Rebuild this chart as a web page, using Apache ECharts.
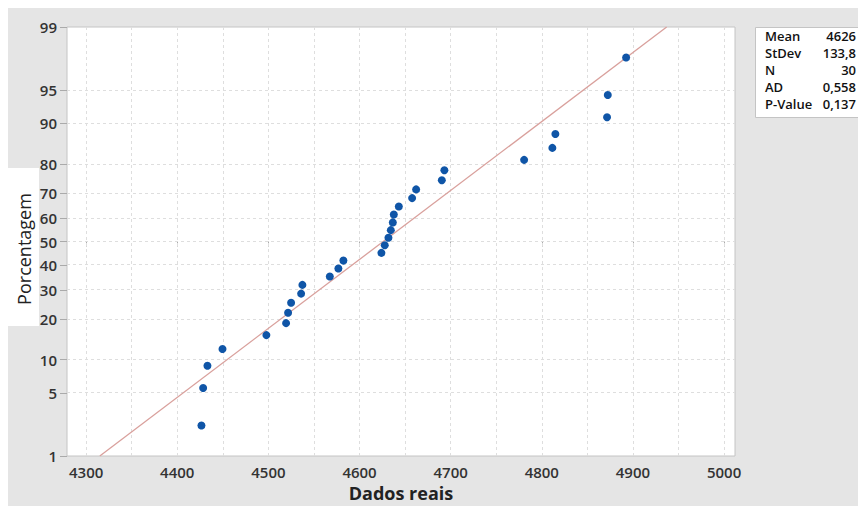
<!DOCTYPE html>
<html><head><meta charset="utf-8">
<script src="https://cdn.jsdelivr.net/npm/echarts@6/dist/echarts.min.js"></script>
<style>html,body{margin:0;padding:0;background:#fff}#c{width:858px;height:508px}</style>
</head><body><div id="c"></div>
<script>
// ---- data ----
const dataX = [4426.5, 4428.4, 4433.1, 4449.6, 4497.8, 4519.4, 4521.6, 4524.9, 4535.9, 4537.3,
               4567.4, 4576.8, 4582.3, 4624.0, 4627.7, 4631.7, 4634.3, 4636.5, 4637.6, 4643.1,
               4657.7, 4662.1, 4690.3, 4693.1, 4780.6, 4811.6, 4814.9, 4871.6, 4872.4, 4892.5];
const dataPct = [2.3, 5.6, 8.9, 12.2, 15.5, 18.8, 22.0, 25.3, 28.6, 31.9,
                 35.2, 38.5, 41.8, 45.1, 48.4, 51.6, 54.9, 58.2, 61.5, 64.8,
                 68.1, 71.4, 74.7, 78.0, 81.2, 84.5, 87.8, 91.1, 94.4, 97.7];
const fitX = [4315, 4937];
const fitPct = [1, 99];
const xTicks = [4300, 4400, 4500, 4600, 4700, 4800, 4900, 5000];
const xGrid = [4300, 4350, 4400, 4450, 4500, 4550, 4600, 4650, 4700, 4750, 4800, 4850, 4900, 4950, 5000];
const yTicks = [1, 5, 10, 20, 30, 40, 50, 60, 70, 80, 90, 95, 99];
const statLabels = ['Mean', 'StDev', 'N', 'AD', 'P-Value'];
const statValues = ['4626', '133,8', '30', '0,558', '0,137'];
const xTitle = 'Dados reais';
const yTitle = 'Porcentagem';

// inverse normal CDF (probability-scale transform)
function probit(p) {
  const a=[-3.969683028665376e+01,2.209460984245205e+02,-2.759285104469687e+02,1.383577518672690e+02,-3.066479806614716e+01,2.506628277459239e+00];
  const b=[-5.447609879822406e+01,1.615858368580409e+02,-1.556989798598866e+02,6.680131188771972e+01,-1.328068155288572e+01];
  const c=[-7.784894002430293e-03,-3.223964580411365e-01,-2.400758277161838e+00,-2.549732539343734e+00,4.374664141464968e+00,2.938163982698783e+00];
  const d=[7.784695709041462e-03,3.224671290700398e-01,2.445134137142996e+00,3.754408661907416e+00];
  const pl=0.02425, ph=1-pl; let q, r;
  if (p < pl) { q=Math.sqrt(-2*Math.log(p)); return (((((c[0]*q+c[1])*q+c[2])*q+c[3])*q+c[4])*q+c[5])/((((d[0]*q+d[1])*q+d[2])*q+d[3])*q+1); }
  if (p <= ph) { q=p-0.5; r=q*q; return (((((a[0]*r+a[1])*r+a[2])*r+a[3])*r+a[4])*r+a[5])*q/(((((b[0]*r+b[1])*r+b[2])*r+b[3])*r+b[4])*r+1); }
  q=Math.sqrt(-2*Math.log(1-p)); return -(((((c[0]*q+c[1])*q+c[2])*q+c[3])*q+c[4])*q+c[5])/((((d[0]*q+d[1])*q+d[2])*q+d[3])*q+1);
}
const z = pct => probit(pct / 100);
const yTickZ = yTicks.map(z);
const zMin = z(1) - 1e-6, zMax = z(99) + 1e-6;

const FONT = '"Open Sans", "Noto Sans", sans-serif';
const gridStyle = { color: '#dedede', type: [3, 3], width: 1 };

const chart = echarts.init(document.getElementById('c'), null, { renderer: 'svg' });
chart.setOption({
  backgroundColor: '#ffffff',
  animation: false,
  graphic: [
    { type: 'rect', z: -100, silent: true, shape: { x: 8, y: 8, width: 850, height: 498 }, style: { fill: '#e5e5e5' } },
    { type: 'rect', z: -90, silent: true, shape: { x: 8, y: 168, width: 31, height: 158 }, style: { fill: '#ffffff' } },
    { type: 'text', z: 10, x: 24, y: 249, rotation: Math.PI / 2, style: { text: yTitle, font: '18px ' + FONT, fill: '#222', align: 'center', verticalAlign: 'middle' } },
    { type: 'rect', z: 5, silent: true, shape: { x: 755.5, y: 27.5, width: 110, height: 90 }, style: { fill: '#ffffff', stroke: '#c4c4c4', lineWidth: 1 } },
    ...statLabels.map((t, i) => ({ type: 'text', z: 10, x: 765, y: 36 + i * 17, style: { text: t, font: '600 13px ' + FONT, fill: '#111', align: 'left', verticalAlign: 'middle' } })),
    ...statValues.map((t, i) => ({ type: 'text', z: 10, x: 856, y: 36 + i * 17, style: { text: t, font: '600 13px ' + FONT, fill: '#111', align: 'right', verticalAlign: 'middle' } }))
  ],
  grid: { left: 67, right: 123, top: 27, bottom: 52, show: true, backgroundColor: '#ffffff', borderColor: '#c4c4c4', borderWidth: 1 },
  xAxis: {
    type: 'value', min: 4279, max: 5012,
    name: xTitle, nameLocation: 'middle', nameGap: 27,
    nameTextStyle: { fontFamily: FONT, fontSize: 18, fontWeight: 'bold', color: '#222' },
    axisLine: { show: false },
    axisTick: { show: true, customValues: xTicks, length: 5, lineStyle: { color: '#aaa' } },
    axisLabel: { customValues: xTicks, margin: 8, fontFamily: FONT, fontSize: 15, fontWeight: 600, color: '#333', formatter: v => String(Math.round(v)) },
    splitLine: { show: false }
  },
  yAxis: {
    type: 'value', min: zMin, max: zMax,
    axisLine: { show: false },
    axisTick: { show: true, customValues: yTickZ, length: 7, lineStyle: { color: '#aaa' } },
    axisLabel: {
      customValues: yTickZ, margin: 10, fontFamily: FONT, fontSize: 15, fontWeight: 600, color: '#333',
      formatter: v => { const i = yTickZ.findIndex(t => Math.abs(t - v) < 1e-4); return i >= 0 ? String(yTicks[i]) : ''; }
    },
    splitLine: { show: false }
  },
  series: [
    {
      type: 'line', data: [], silent: true, z: 1,
      markLine: {
        z: 1, silent: true, symbol: 'none', label: { show: false }, lineStyle: gridStyle, animation: false,
        data: [
          ...xGrid.map(v => ({ xAxis: v })),
          ...yTickZ.slice(1, -1).map(v => ({ yAxis: v }))
        ]
      }
    },
    {
      type: 'line', z: 2, silent: true, symbol: 'none',
      data: fitX.map((x, i) => [x, z(fitPct[i])]),
      lineStyle: { color: '#d9a09c', width: 1.3 }
    },
    {
      type: 'scatter', z: 3, symbol: 'circle', symbolSize: 8,
      data: dataX.map((x, i) => [x, z(dataPct[i])]),
      itemStyle: { color: '#0f55a7', opacity: 1 }
    }
  ]
});
</script>
</body></html>
